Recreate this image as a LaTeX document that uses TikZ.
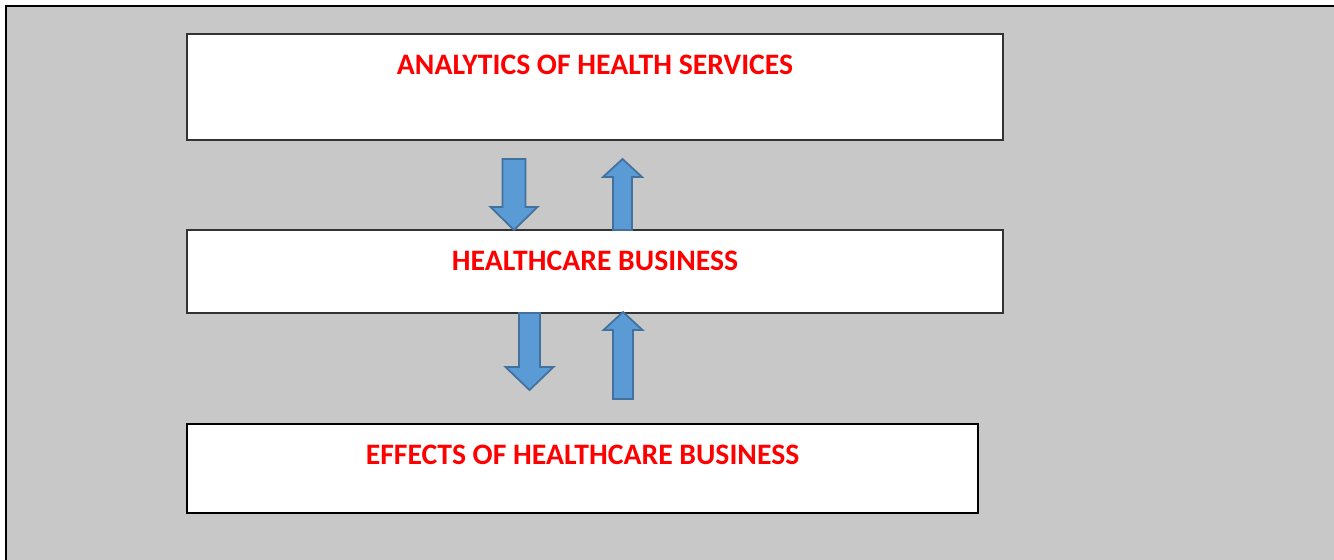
\documentclass[tikz,border=0pt]{standalone}
\usepackage{fontspec}
\setmainfont{Carlito}
\usepackage{tikz}
\definecolor{panelGray}{RGB}{200, 200, 200}
\definecolor{arrowBlue}{RGB}{91, 155, 213}
\definecolor{arrowEdge}{RGB}{65, 113, 156}
\definecolor{titleRed}{RGB}{255, 0, 0}

\tikzset{
  panel/.style={draw=black!80, line width=0.9pt, fill=white, inner sep=0pt},
  caption/.style={text=titleRed, font=\bfseries\fontsize{16.9}{19}\selectfont},
  blockarrow/.style={fill=arrowBlue, draw=arrowEdge, line width=1pt, line join=miter}
}
% #1 centre x, #2 tail y, #3 tip y, #4 half shaft, #5 half head, #6 head base y
\newcommand{\blockarrowpath}[6]{%
  \draw[blockarrow] ({#1-#4},#2) -- ({#1-#4},#6) -- ({#1-#5},#6) -- (#1,#3)
    -- ({#1+#5},#6) -- ({#1+#4},#6) -- ({#1+#4},#2) -- cycle;}

\begin{document}
\begin{tikzpicture}[x=0.02cm, y=-0.02cm]
        \useasboundingbox (0,0) rectangle (1334,560);
        \fill[white] (0,0) rectangle (1334,560);
        \fill[panelGray] (6,6) rectangle (1345,570);
        \draw[black, line width=1.7pt] (6,570) -- (6,6) -- (1345,6);

        % boxes
        \node[panel, minimum width=16.32cm, minimum height=2.12cm] (analytics) at (595,87) {};
        \node[panel, minimum width=16.32cm, minimum height=1.66cm] (business) at (595,271.5) {};
        \node[panel, draw=black, minimum width=15.82cm, minimum height=1.78cm] (effects) at (582.5,468.5) {};

        \node[caption] (analyticsText) at ([yshift=-0.64cm]analytics.north) {ANALYTICS OF HEALTH SERVICES};
        \node[caption] (businessText) at ([yshift=-0.64cm]business.north) {HEALTHCARE BUSINESS};
        \node[caption] (effectsText) at ([yshift=-0.64cm]effects.north) {EFFECTS OF HEALTHCARE BUSINESS};

        % arrows
        \blockarrowpath{514}{159}{230}{11.5}{23.5}{207}
        \blockarrowpath{622.5}{230}{159}{9.5}{19.5}{177}
        \blockarrowpath{529.5}{313}{390}{10.5}{24}{367}
        \blockarrowpath{623}{399}{312}{10}{19.5}{330}
      \end{tikzpicture}
\end{document}
